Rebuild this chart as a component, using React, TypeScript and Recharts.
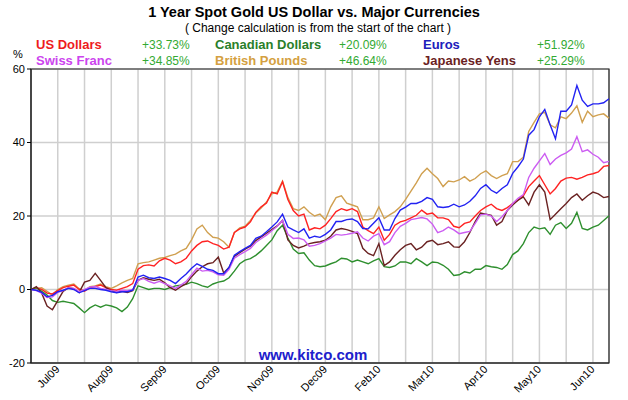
import React from 'react';
import {
  LineChart,
  Line,
  XAxis,
  YAxis,
  CartesianGrid,
  ReferenceArea,
} from 'recharts';

// one point every ~2 trading days, index 0..108
const usd = [
  0, 0.5, 0, -1, -1.2, -0.3, 0.5, 0.9, 1.2, 0,
  -0.5, 0.5, 0.8, 1.2, 0.5, 0, -0.2, 0.3, 0.8, 1.6,
  5.5, 6.5, 6.7, 6.4, 7.8, 8.5, 8, 7, 7.5, 8.5,
  10.5, 12, 13, 13.2, 12.5, 12, 11, 11.5, 15.5, 16.5,
  17, 18.4, 21, 22.5, 23.5, 26.5, 26, 29.3, 24.5, 21.5,
  20, 20.5, 16.2, 16.8, 16.5, 17.5, 19.3, 21.2, 22, 21.5,
  22, 21.2, 17, 16, 15.2, 17, 13.4, 15, 17.5, 18.4,
  18.8, 19.5, 20.2, 21.6, 20.5, 20.8, 19.5, 19.5, 19, 17.2,
  16.8, 18, 18.4, 20, 21.5, 22.5, 23.2, 22, 21.5, 22.3,
  23.4, 24.3, 25.5, 28, 29.5, 31, 28.5, 26, 27.5, 29.5,
  30.3, 30.5, 30, 30.5, 31.2, 31.5, 32, 33.5, 33.73,
];

const cad = [
  0, 0.5, -0.5, -1.5, -3, -3.5, -3.2, -3.5, -3.8, -5,
  -6.3, -5, -4.2, -4.8, -4.2, -4.5, -5, -6, -4.8, -2.5,
  1, 0.5, 0, 0.3, 0.3, 0, 0.5, 1, 1.2, 1.4,
  2, 1.6, 1, 0.6, 1.5, 2, 2.3, 3.2, 5, 7,
  8, 8.4, 9.3, 10.5, 12, 13.5, 16, 17.5, 14, 11,
  9.8, 10, 8, 6.5, 6.2, 6.4, 7, 7.5, 8.5, 8.3,
  7.5, 8, 7.5, 7, 7.8, 8.4, 6.2, 6, 6.4, 7.5,
  7.5, 7, 8.4, 7.5, 6.5, 7.5, 7.3, 6.6, 5.5, 3.8,
  4, 4.8, 4.5, 5.5, 5.5, 6.5, 6.2, 6, 5.5, 6.8,
  9.5, 10.5, 12.5, 15.5, 17, 16.5, 16.8, 15, 17.5, 18.2,
  16.6, 18, 21, 16.6, 16.2, 17, 17.5, 18.8, 20.09,
];

const eur = [
  0, -0.2, -0.8, -2, -1.6, -0.6, -0.2, 0.3, 0, -0.9,
  -0.3, 0.3, 0.3, 0, -0.2, -0.6, -0.9, -0.6, -0.6, -0.2,
  3.4, 3.9, 3.2, 3, 3.4, 3, 2.5, 1.6, 3, 4.2,
  5.8, 7, 6.3, 5.5, 5.2, 4.3, 4.3, 6, 9.3, 10.3,
  11.2, 12, 13.9, 14.5, 15.7, 17, 18.4, 20.5, 17, 16.2,
  15.5, 16.5, 14, 14.5, 14.2, 15, 16.2, 18.5, 18.5, 19,
  19.2, 18.5, 16.6, 16.5, 18, 19.5, 16.2, 16.2, 19.3, 21.6,
  22.4, 23.4, 23.4, 24, 25, 24.5, 22.5, 22.3, 22.5, 23.2,
  22.5, 23, 24, 25.5, 27.5, 28.5, 27, 26.2, 27.5, 28.5,
  31.6, 33.4, 35.5, 42, 43.5, 47, 49, 44.8, 41, 48.5,
  48.5, 50.2, 55.5, 51.5, 49.8, 50.5, 50.5, 50.8, 51.92,
];

const chf = [
  0, -0.3, -1, -2.2, -2, -0.8, -0.3, 0.5, 0.3, -0.6,
  0, 0.6, 0.8, 0.3, 0, -0.3, -0.5, -0.2, -0.3, 0,
  2.5, 3, 2.2, 1.7, 2.2, 1.6, 1, 0.3, 1.2, 2.2,
  4, 5.8, 5, 5.2, 4.8, 4, 3.9, 5.5, 8.5, 9.5,
  10.3, 11.2, 12.8, 13.8, 14.8, 16, 17.2, 18.8, 15, 13.9,
  14, 13.5, 11.8, 12, 12.5, 13.2, 14, 15, 14.8, 15,
  15.3, 15.7, 14, 13.2, 14.5, 15.2, 12.2, 13, 15.5, 17.2,
  18, 19, 19.3, 19.6, 19.2, 17.8, 15.5, 16, 17, 16.2,
  15.2, 15.5, 15.8, 18, 20.3, 20.5, 20, 18.5, 19.8, 21.5,
  23.4, 24.8, 25.8, 30.5, 33, 35, 37, 34, 35.5, 36.5,
  37.2, 38.2, 41.6, 37.5, 38, 36.8, 36, 34.5, 34.85,
];

const gbp = [
  0, 0.3, 0.5, -0.5, -1.5, 0, 0.8, 1.2, 1.5, 0.2,
  -0.3, 0.8, 1, 1.5, 0.8, 0.3, 1, 1.8, 2.5, 3,
  7, 7.3, 7.5, 8, 8.5, 8.7, 9.2, 9.6, 10.5, 11.2,
  13.5, 16.5, 17.5, 15.5, 14.2, 14, 13, 11.5, 15.5, 16.8,
  17.2, 18.8, 20.8, 22.2, 23.8, 26, 26.5, 29.5, 25, 22,
  21.5, 22.5, 21, 20, 20.5, 19, 22.5, 25, 25.5, 23.5,
  23, 22.5, 19, 19, 19.5, 22.5, 19.3, 20.3, 21.2, 22.5,
  24.5, 26.8, 29, 31.5, 33, 31.5, 30.2, 28, 29.5, 29.3,
  29.8, 30.7, 29.5, 30.2, 31.5, 32.3, 31, 30.2, 31, 31.5,
  34.8, 34.8, 36, 43, 45.5, 47.8, 48.2, 44.8, 44, 47,
  46.5, 48, 50, 45.5, 48.5, 47, 47.5, 47.8, 46.64,
];

const jpy = [
  0, 0.8, -1, -4.5, -5.5, -3, -0.5, 0.5, 0.2, -0.8,
  2, 2.5, 4.4, 2.5, 0.5, -0.3, -0.8, -0.5, -0.8, -0.3,
  2.5, 3.2, 2.8, 2.5, 2.8, 1.8, 0.5, -0.2, 0.8, 1.6,
  3.5, 5, 6.2, 7, 7.3, 8.8, 4.5, 6, 9, 10,
  11, 11.8, 13.3, 14.3, 15.3, 16.3, 17.3, 18.8, 13.5, 12,
  11.3, 11.8, 12.5, 12.8, 13, 13.4, 14.5, 16.2, 16.6, 16.3,
  15.8, 15.2, 11.2, 9.8, 9.2, 12.5, 6.5, 7.5, 9.3, 10.8,
  12, 12.5, 10.8, 11.5, 13, 13.4, 12.2, 12.5, 13, 11.6,
  11.5, 13, 15.5, 18.5, 20.8, 20.5, 20.2, 17.5, 18.5, 21.5,
  23, 24.3, 25.2, 23, 26.5, 28.5, 26.5, 19, 20.5, 22,
  23.4, 25, 26, 24.3, 25.5, 26.5, 26, 25, 25.29,
];

const gridTicks = [5, 10, 15, 20, 25, 30, 35, 40, 45, 50, 55, 60, 65, 70, 75, 80, 85, 90, 95, 100, 105];
const labelTicks = [5, 15, 25, 35, 45, 55, 65, 75, 85, 95, 105];
const monthLabels = ['Jul09', 'Aug09', 'Sep09', 'Oct09', 'Nov09', 'Dec09', 'Feb10', 'Mar10', 'Apr10', 'May10', 'Jun10'];
const yTicks = [-20, 0, 20, 40, 60];

const seriesNames = ['US Dollars', 'Canadian Dollars', 'Euros', 'Swiss Franc', 'British Pounds', 'Japanese Yens'];
const seriesChanges = ['+33.73%', '+20.09%', '+51.92%', '+34.85%', '+46.64%', '+25.29%'];

const FONT = 'Arial, "Liberation Sans", sans-serif';

const lineColors = {
  usd: '#ff2222',
  cad: '#2e8f2e',
  eur: '#2222f2',
  chf: '#cc5cf2',
  gbp: '#d0a050',
  jpy: '#6a2222',
};

const legendColors = ['#ee1c1c', '#2a7f2a', '#2020bb', '#cc44ee', '#d4a040', '#6b1f1f'];

const rows = usd.map((v, i) => ({
  i,
  usd: v,
  cad: cad[i],
  eur: eur[i],
  chf: chf[i],
  gbp: gbp[i],
  jpy: jpy[i],
}));

const MonthTick = (props: any) => {
  const { x, y, payload } = props;
  const k = labelTicks.indexOf(payload.value);
  if (k < 0) return null;
  const tx = x + 2.5;
  const ty = y + 7;
  return (
    <text
      x={tx}
      y={ty}
      transform={`rotate(-45 ${tx} ${ty})`}
      textAnchor="end"
      fontSize={11}
      fontFamily={FONT}
      fill="#000"
    >
      {monthLabels[k]}
    </text>
  );
};

// legend layout: names column / change column, two rows of three
const legendCols = [36, 215, 423];
const changeCols = [142, 339, 537];
const legendRows = [49.3, 65.3];

const App: React.FC = () => {
  return (
    <div style={{ position: 'absolute', left: 0, top: 0, width: 628, height: 400, background: '#fff', fontFamily: FONT }}>
      <LineChart
        width={628}
        height={400}
        data={rows}
        margin={{ top: 69, right: 19, bottom: 0, left: 0 }}
      >
        <CartesianGrid stroke="#cfcfcf" strokeWidth={1.5} />
        <XAxis
          dataKey="i"
          type="number"
          domain={[0, 108]}
          ticks={gridTicks}
          interval={0}
          height={37}
          tickLine={false}
          tickSize={0}
          tickMargin={0}
          axisLine={{ stroke: '#222' }}
          tick={<MonthTick />}
        />
        <YAxis
          type="number"
          domain={[-20, 60]}
          ticks={yTicks}
          interval={0}
          width={31}
          tickSize={4}
          tickMargin={2}
          tickLine={{ stroke: '#000' }}
          axisLine={{ stroke: '#222' }}
          tick={{ fill: '#000', fontSize: 11, fontFamily: FONT }}
        />
        <ReferenceArea x1={0} x2={108} y1={-20} y2={60} fill="none" stroke="#222" strokeWidth={1.2} />
        <Line dataKey="gbp" stroke={lineColors.gbp} strokeWidth={1.4} dot={false} isAnimationActive={false} />
        <Line dataKey="usd" stroke={lineColors.usd} strokeWidth={1.4} dot={false} isAnimationActive={false} />
        <Line dataKey="cad" stroke={lineColors.cad} strokeWidth={1.4} dot={false} isAnimationActive={false} />
        <Line dataKey="jpy" stroke={lineColors.jpy} strokeWidth={1.4} dot={false} isAnimationActive={false} />
        <Line dataKey="chf" stroke={lineColors.chf} strokeWidth={1.4} dot={false} isAnimationActive={false} />
        <Line dataKey="eur" stroke={lineColors.eur} strokeWidth={1.4} dot={false} isAnimationActive={false} />
      </LineChart>

      <svg width={628} height={400} style={{ position: 'absolute', left: 0, top: 0, pointerEvents: 'none' }}>
        <text x={314} y={17.3} textAnchor="middle" fontSize={14.5} fontWeight="bold" fontFamily={FONT} fill="#000">
          1 Year Spot Gold US Dollar vs. Major Currencies
        </text>
        <text x={318} y={32} textAnchor="middle" fontSize={12} fontFamily={FONT} fill="#000">
          ( Change calculation is from the start of the chart )
        </text>
        {seriesNames.map((name, k) => {
          const col = k % 3;
          const row = Math.floor(k / 3);
          return (
            <g key={name}>
              <text x={legendCols[col]} y={legendRows[row]} fontSize={13} fontWeight="bold" fontFamily={FONT} fill={legendColors[k]}>
                {name}
              </text>
              <text x={changeCols[col]} y={legendRows[row]} fontSize={12} fontFamily={FONT} fill="#33aa33">
                {seriesChanges[k]}
              </text>
            </g>
          );
        })}
        <text x={13} y={58} fontSize={11} fontFamily={FONT} fill="#000">%</text>
        <text x={313} y={359.5} textAnchor="middle" fontSize={15} fontWeight="bold" fontFamily={FONT} fill="#2020cc">
          www.kitco.com
        </text>
      </svg>
    </div>
  );
};

export default App;
